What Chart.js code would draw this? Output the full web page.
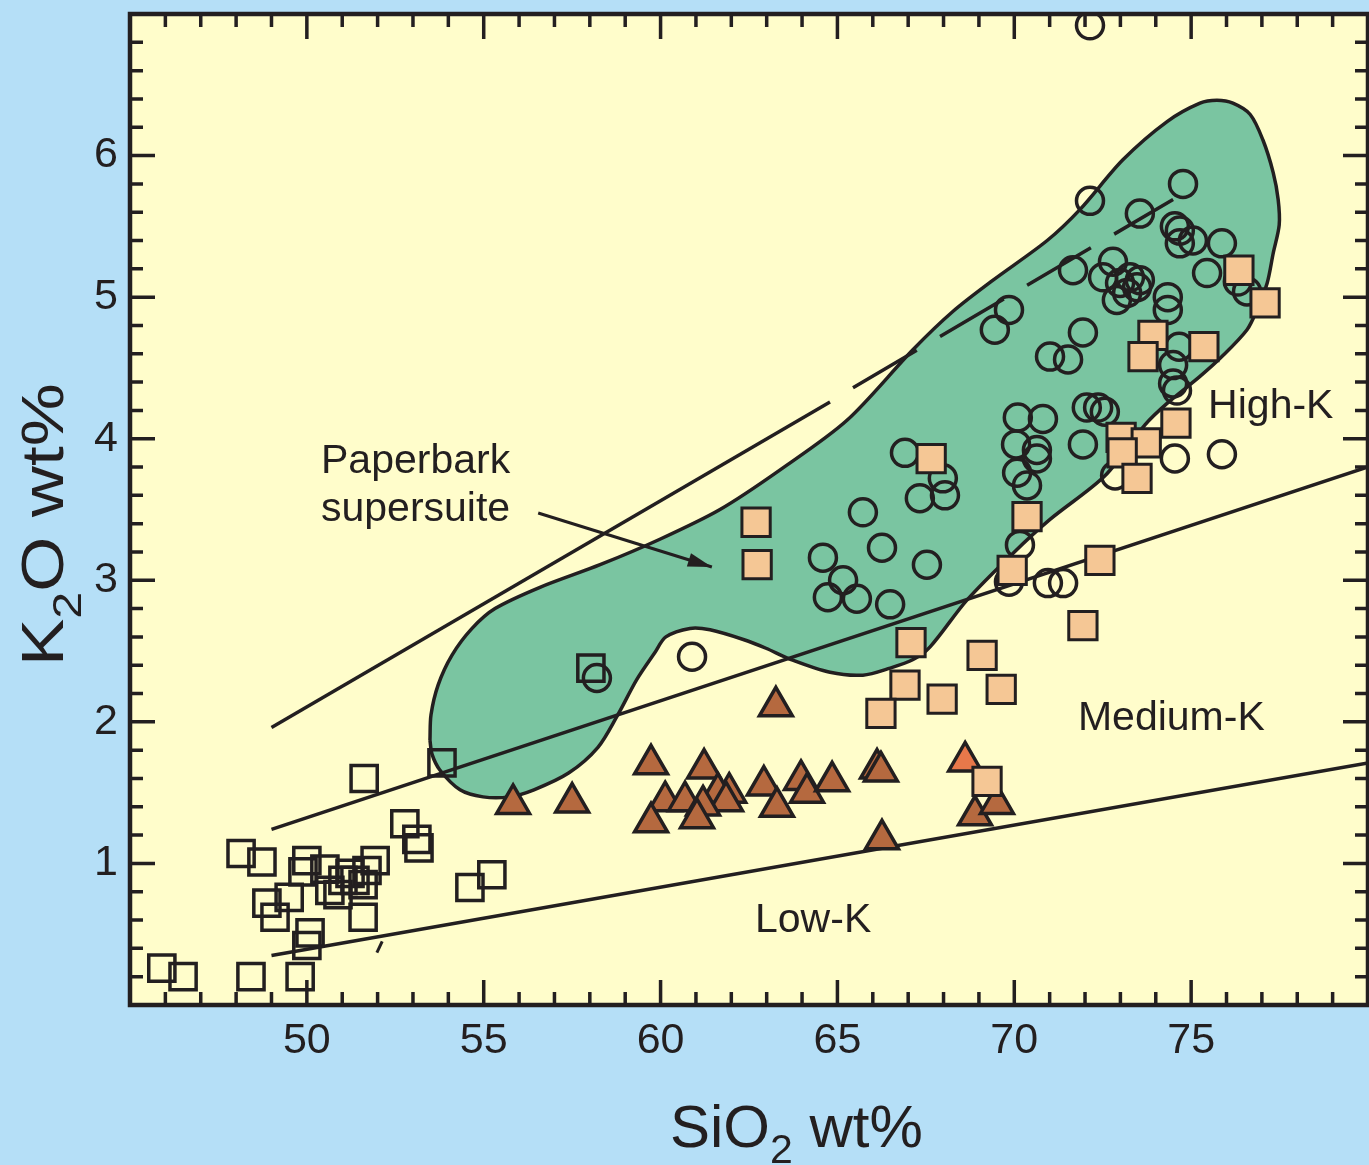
<!DOCTYPE html>
<html>
<head>
<meta charset="utf-8">
<title>K2O vs SiO2</title>
<script src="https://cdn.jsdelivr.net/npm/chart.js@4.4.1/dist/chart.umd.min.js"></script>
<style>
  html, body { margin: 0; padding: 0; background: #b5dff7; }
  #wrap { width: 1369px; height: 1165px; position: relative; }
</style>
</head>
<body>
<div id="wrap"><canvas id="myChart"></canvas></div>
<script>
// DATA
const xTickLabels = [50, 55, 60, 65, 70, 75];
const yTickLabels = [1, 2, 3, 4, 5, 6];

// Paperbark supersuite (open circles)
const circleSi = [72.14, 72.14, 74.77, 73.55, 74.54, 74.68, 75.05, 75.87, 75.45, 76.32, 76.58,
  71.66, 72.79, 72.51, 72.99, 73.19, 72.90, 73.47, 73.27, 73.55, 74.34, 74.34, 69.85, 69.45,
  71.94, 71.01, 71.52, 74.66, 74.49, 74.49, 74.60, 72.05, 72.37, 72.56, 70.10, 70.81, 70.05,
  70.64, 70.64, 70.08, 70.36, 66.91, 67.98, 67.33, 68.04, 65.72, 66.26, 67.53, 64.59, 65.16,
  64.73, 65.55, 66.49, 70.16, 69.85, 70.95, 71.38, 74.54, 75.87, 71.94, 72.85, 58.20, 60.89, 74.68];
const circleK = [6.92, 5.68, 5.80, 5.59, 5.50, 5.38, 5.40, 5.38, 5.17, 5.11, 5.04,
  5.19, 5.25, 5.14, 5.10, 5.03, 4.98, 5.07, 5.14, 5.12, 5.00, 4.91, 4.91, 4.77,
  4.75, 4.58, 4.56, 4.65, 4.52, 4.39, 4.34, 4.22, 4.22, 4.19, 4.15, 4.14, 3.96,
  3.92, 3.86, 3.76, 3.67, 3.90, 3.72, 3.58, 3.60, 3.48, 3.23, 3.11, 3.16, 3.00,
  2.88, 2.87, 2.83, 3.25, 2.99, 2.98, 2.98, 3.86, 3.89, 3.96, 3.74, 2.31, 2.46, 5.47];

// filled tan squares
const tanSi = [62.70, 62.73, 67.65, 76.35, 77.09, 73.92, 73.64, 75.36, 74.57, 73.02, 73.73, 73.05,
  73.47, 72.42, 70.36, 69.94, 67.08, 66.91, 66.23, 67.96, 69.09, 69.63, 69.23, 71.94];
const tanK = [3.41, 3.11, 3.86, 5.19, 4.96, 4.73, 4.58, 4.65, 4.11, 4.01, 3.97, 3.90,
  3.72, 3.14, 3.45, 3.07, 2.56, 2.26, 2.06, 2.16, 2.47, 2.23, 1.58, 2.68];

// brown triangles
const triSi = [55.83, 57.50, 59.73, 61.23, 63.26, 60.13, 60.69, 59.73, 61.94, 61.62, 61.85, 62.92,
  63.29, 63.97, 64.14, 64.85, 66.12, 66.23, 66.26, 68.89, 69.51, 61.20, 61.03];
const triK = [1.42, 1.43, 1.70, 1.67, 2.11, 1.44, 1.44, 1.29, 1.50, 1.50, 1.44, 1.55,
  1.40, 1.59, 1.50, 1.58, 1.67, 1.65, 1.17, 1.34, 1.42, 1.41, 1.32];

// orange triangle
const orangeSi = [68.61];
const orangeK = [1.72];

// open squares
const openSqSi = [51.62, 53.82, 48.14, 48.73, 50.00, 50.51, 51.93, 51.70, 52.77, 53.11, 53.17,
  48.87, 49.50, 49.10, 49.89, 50.88, 51.22, 51.59, 51.02, 51.59, 50.09, 50.00, 54.61, 55.23,
  45.90, 46.50, 48.42, 49.81, 58.03, 50.65, 51.36];
const openSqK = [1.60, 1.71, 1.07, 1.01, 1.02, 0.96, 1.02, 0.95, 1.28, 1.17, 1.11,
  0.72, 0.76, 0.62, 0.94, 0.78, 0.93, 0.85, 0.88, 0.62, 0.51, 0.42, 0.83, 0.92,
  0.26, 0.20, 0.20, 0.20, 2.38, 0.81, 0.88];

// Paperbark supersuite field outline
const fieldSi = [53.48, 53.51, 53.71, 54.10, 54.67, 55.32, 56.59, 58.29, 59.98, 61.68, 63.38, 65.27,
  67.14, 68.27, 69.40, 70.93, 71.86, 73.07, 74.32, 75.25, 75.73, 76.18, 76.67, 77.03, 77.32,
  77.46, 77.49, 77.32, 77.15, 76.86, 76.58, 75.87, 75.25, 74.32, 73.70, 72.57, 71.01, 69.96,
  68.66, 67.62, 67.14, 66.49, 65.72, 64.79, 63.69, 62.98, 62.36, 61.40, 60.83, 60.15, 59.84,
  59.33, 58.77, 58.23, 57.41, 56.42, 55.72, 54.98, 54.33, 53.76, 53.54, 53.48];
const fieldK = [1.87, 2.05, 2.26, 2.47, 2.66, 2.80, 2.95, 3.11, 3.29, 3.50, 3.78, 4.13,
  4.63, 4.90, 5.12, 5.40, 5.62, 5.97, 6.24, 6.37, 6.39, 6.37, 6.29, 6.11, 5.88,
  5.69, 5.51, 5.31, 5.10, 4.91, 4.77, 4.58, 4.44, 4.25, 4.10, 3.74, 3.43, 3.19,
  2.86, 2.53, 2.44, 2.38, 2.33, 2.35, 2.44, 2.52, 2.58, 2.65, 2.66, 2.60, 2.49,
  2.30, 2.04, 1.82, 1.64, 1.52, 1.47, 1.47, 1.52, 1.66, 1.77, 1.87];

// classification boundaries
const highKSi = [49.0, 64.79];
const highKK = [1.96, 4.26];
const highKDashSi = [65.44, 74.49];
const highKDashK = [4.36, 5.69];
const medKSi = [49.0, 80.0];
const medKK = [1.24, 3.80];
const lowKSi = [49.0, 80.0];
const lowKK = [0.35, 1.71];
const nickSi = [51.98, 52.13];
const nickK = [0.37, 0.45];

// label arrow
const arrowSi = [56.54, 61.45];
const arrowK = [3.475, 3.094];

const ink = '#231f20';
const fontFamily = "'Liberation Sans', Arial, Helvetica, sans-serif";
const pts = (xs, ys) => xs.map((x, i) => ({ x, y: ys[i] }));

// text drawn on the plot, positioned in data units (left, baseline)
const plotTexts = [
  { text: 'Paperbark', x: 50.40, y: 3.758 },
  { text: 'supersuite', x: 50.40, y: 3.419 },
  { text: 'High-K', x: 75.48, y: 4.146 },
  { text: 'Medium-K', x: 71.80, y: 1.943 },
  { text: 'Low-K', x: 62.67, y: 0.516 }
];

function drawParts(ctx, parts, x, y, size, subDrop) {
  let cx = x;
  for (const [t, sub] of parts) {
    ctx.font = (sub ? Math.round(size * 0.68) : size) + 'px ' + fontFamily;
    ctx.fillText(t, cx, sub ? y + size * subDrop : y);
    cx += ctx.measureText(t).width;
  }
}

// scales keep exactly the box they are given
function fixBox(s, side, size) {
  s[side] = size;
  s.paddingTop = 0; s.paddingBottom = 0; s.paddingLeft = 0; s.paddingRight = 0;
}

const decor = {
  id: 'decor',
  beforeDraw(chart) {
    const { ctx, chartArea: a } = chart;
    ctx.save();
    ctx.fillStyle = '#b5dff7';
    ctx.fillRect(0, 0, chart.width, chart.height);
    ctx.fillStyle = '#fffdcb';
    ctx.fillRect(a.left, a.top, a.right - a.left, a.bottom - a.top);
    ctx.restore();
  },
  afterDatasetsDraw(chart) {
    const { ctx, chartArea: a, scales: { x, y } } = chart;
    ctx.save();

    // arrow head
    const meta = chart.getDatasetMeta(5);
    const p0 = meta.data[0], p1 = meta.data[1];
    const ang = Math.atan2(p1.y - p0.y, p1.x - p0.x);
    ctx.fillStyle = ink;
    ctx.beginPath();
    ctx.moveTo(p1.x, p1.y);
    ctx.lineTo(p1.x - 24 * Math.cos(ang) + 7 * Math.sin(ang), p1.y - 24 * Math.sin(ang) - 7 * Math.cos(ang));
    ctx.lineTo(p1.x - 24 * Math.cos(ang) - 7 * Math.sin(ang), p1.y - 24 * Math.sin(ang) + 7 * Math.cos(ang));
    ctx.closePath();
    ctx.fill();

    // inward ticks on all four sides
    ctx.strokeStyle = ink;
    ctx.lineWidth = 3.5;
    ctx.beginPath();
    for (let v = x.min + 1; v < x.max; v++) {
      const px = x.getPixelForValue(v);
      const len = v % 5 === 0 ? 25 : 13;
      ctx.moveTo(px, a.bottom); ctx.lineTo(px, a.bottom - len);
      ctx.moveTo(px, a.top); ctx.lineTo(px, a.top + len);
    }
    for (let i = 1; i < y.max * 5; i++) {
      const py = y.getPixelForValue(i / 5);
      const len = i % 5 === 0 ? 25 : 13;
      ctx.moveTo(a.left, py); ctx.lineTo(a.left + len, py);
      ctx.moveTo(a.right, py); ctx.lineTo(a.right - len, py);
    }
    ctx.stroke();
    ctx.lineWidth = 4.5;
    ctx.strokeRect(a.left, a.top, a.right - a.left, a.bottom - a.top);

    // plot labels
    ctx.fillStyle = ink;
    ctx.textBaseline = 'alphabetic';
    ctx.textAlign = 'left';
    ctx.font = '41px ' + fontFamily;
    for (const t of plotTexts) {
      ctx.fillText(t.text, x.getPixelForValue(t.x), y.getPixelForValue(t.y));
    }

    // axis titles
    drawParts(ctx, [['SiO', false], ['2', true], [' wt%', false]], 670, 1147, 60, 0.26);
    ctx.translate(63, 666);
    ctx.rotate(-Math.PI / 2);
    ctx.scale(1.18, 1);
    drawParts(ctx, [['K', false], ['2', true], ['O wt%', false]], 0, 0, 60, 0.3);
    ctx.restore();
  }
};

const lineSet = (data, extra) => Object.assign({
  data, showLine: true, pointRadius: 0, borderColor: ink, borderWidth: 3.5, fill: false
}, extra);

const ctx = document.getElementById('myChart');

new Chart(ctx, {
  type: 'scatter',
  data: {
    datasets: [
      { label: 'tan', data: pts(tanSi, tanK), pointStyle: 'rect', pointRadius: 20,
        backgroundColor: '#f5c795', borderColor: ink, borderWidth: 3 },
      { label: 'orange', data: pts(orangeSi, orangeK), pointStyle: 'triangle', pointRadius: 19,
        backgroundColor: '#e8784a', borderColor: ink, borderWidth: 3.5 },
      { label: 'triangles', data: pts(triSi, triK), pointStyle: 'triangle', pointRadius: 19,
        backgroundColor: '#b5693f', borderColor: ink, borderWidth: 3.5 },
      { label: 'circles', data: pts(circleSi, circleK), pointStyle: 'circle', pointRadius: 13.5,
        backgroundColor: 'rgba(0,0,0,0)', borderColor: ink, borderWidth: 3.5 },
      { label: 'open squares', data: pts(openSqSi, openSqK), pointStyle: 'rect', pointRadius: 18.5,
        backgroundColor: 'rgba(0,0,0,0)', borderColor: ink, borderWidth: 3.5 },
      lineSet(pts(arrowSi, arrowK), { borderWidth: 3 }),
      lineSet(pts(highKSi, highKK)),
      lineSet(pts(highKDashSi, highKDashK), { borderDash: [74, 27] }),
      lineSet(pts(medKSi, medKK)),
      lineSet(pts(lowKSi, lowKK)),
      lineSet(pts(nickSi, nickK), { borderWidth: 3 }),
      lineSet(pts(fieldSi, fieldK), { fill: 'shape', backgroundColor: '#7ac5a1', tension: 0.3 })
    ]
  },
  options: {
    responsive: true,
    maintainAspectRatio: false,
    animation: false,
    events: [],
    layout: { autoPadding: false, padding: { top: 14, right: 1, left: 0, bottom: 0 } },
    plugins: { legend: { display: false }, tooltip: { enabled: false } },
    scales: {
      x: {
        type: 'linear', min: 45, max: 80,
        afterFit: (s) => fixBox(s, 'height', 160),
        afterBuildTicks: (s) => { s.ticks = xTickLabels.map((v) => ({ value: v })); },
        grid: { display: false, drawTicks: false },
        border: { display: false },
        ticks: {
          padding: 10, color: ink, autoSkip: false, maxRotation: 0,
          font: { family: fontFamily, size: 43 }
        }
      },
      y: {
        type: 'linear', min: 0, max: 7,
        afterFit: (s) => fixBox(s, 'width', 130),
        afterBuildTicks: (s) => { s.ticks = yTickLabels.map((v) => ({ value: v })); },
        grid: { display: false, drawTicks: false },
        border: { display: false },
        ticks: {
          padding: 12, color: ink, autoSkip: false,
          font: { family: fontFamily, size: 43 }
        }
      }
    }
  },
  plugins: [decor]
});
</script>
</body>
</html>
